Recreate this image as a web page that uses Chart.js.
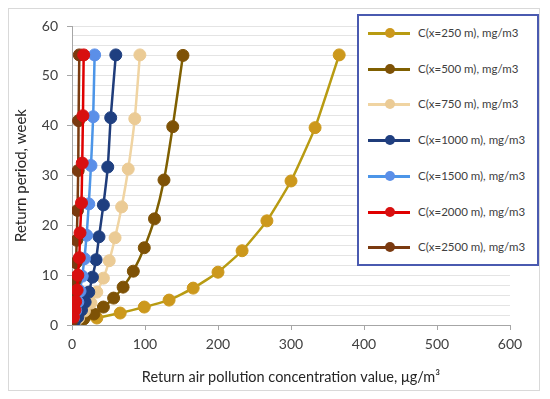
<!DOCTYPE html>
<html>
<head>
<meta charset="utf-8">
<script src="https://cdn.jsdelivr.net/npm/chart.js@4/dist/chart.umd.min.js"></script>
<style>
  html, body { margin: 0; padding: 0; background: #fff; }
  #wrap { position: relative; width: 550px; height: 399px; }
  #frame { position: absolute; left: 8px; top: 8px; width: 530px; height: 381px; border: 1px solid #D9D9D9; pointer-events: none; }
  #legend { position: absolute; left: 357px; top: 14px; width: 178px; height: 248px; border: 2px solid #4A5AB0; background: #fff; }
  .item { position: absolute; left: 0; height: 16px; width: 178px; }
  .sample { position: absolute; left: 9px; top: 7px; width: 42px; height: 3px; }
  .dot { position: absolute; left: 26px; top: 3px; width: 10px; height: 10px; border-radius: 50%; }
  .txt { position: absolute; left: 59px; top: 0px; font: 11.5px Lato, "Open Sans", sans-serif; color: #404040; white-space: nowrap; line-height: 16px; }
</style>
</head>
<body>
<div id="wrap">
  <canvas id="c" width="550" height="399"></canvas>
  <div id="frame"></div>
  <div id="legend"></div>
</div>
<script>
// ---- data ----
const seriesNames = [
  "C(x=250 m), mg/m3", "C(x=500 m), mg/m3", "C(x=750 m), mg/m3",
  "C(x=1000 m), mg/m3", "C(x=1500 m), mg/m3", "C(x=2000 m), mg/m3", "C(x=2500 m), mg/m3"
];
const x250  = [366, 333, 300, 267, 233, 200, 166, 133, 99, 66, 34, 2];
const y250  = [54.2, 39.6, 28.9, 20.9, 14.9, 10.6, 7.4, 5.0, 3.6, 2.4, 1.4, 0.6];
const x500  = [152, 138, 126, 113, 99, 84, 70, 57, 43, 30, 16, 1];
const y500  = [54.1, 39.8, 29.1, 21.3, 15.5, 10.8, 7.6, 5.4, 3.6, 2.2, 1.2, 0.5];
const x750  = [93, 86, 77, 68, 59, 51, 43, 34, 26, 17, 9, 1];
const y750  = [54.2, 41.4, 31.3, 23.7, 17.5, 12.9, 9.4, 6.6, 4.4, 2.8, 1.4, 0.5];
const x1000 = [60, 53, 49, 43, 37, 33, 28, 23, 18, 13, 8, 3];
const y1000 = [54.2, 41.6, 31.7, 24.1, 17.7, 13.1, 9.6, 6.6, 4.6, 3.0, 1.6, 0.6];
const x1500 = [31, 29, 26, 23, 20, 17, 14, 11, 8, 5, 2];
const y1500 = [54.2, 41.8, 32.0, 24.3, 18.0, 13.3, 9.8, 6.8, 4.6, 2.9, 1.4];
const x2000 = [16, 15, 14, 13, 11, 10, 8, 7, 5, 4, 2];
const y2000 = [54.2, 42.0, 32.5, 24.5, 18.5, 13.5, 10.0, 7.0, 4.7, 3.0, 1.6];
const x2500 = [10, 9, 8.5, 7.5, 6.5, 5.5, 4.5, 3.5, 2.5, 1.5, 0.5];
const y2500 = [54.2, 41.0, 31.0, 23.0, 17.0, 12.5, 9.0, 6.5, 4.3, 2.7, 1.0];
const xTickValues = [0, 100, 200, 300, 400, 500, 600];
const yTickValues = [0, 10, 20, 30, 40, 50, 60];

// ---- styles ----
const lineColors  = ["#B89B12", "#7F5F00", "#F0D4A2", "#1F3C7A", "#4C95E8", "#E00000", "#7A3A10"];
const pointColors = ["#CC981C", "#7E5206", "#EBCB95", "#1F3F80", "#5B8FE8", "#D81010", "#7A3A10"];
const drawOrder   = [6, 5, 4, 3, 2, 0, 1];

const xs = [x250, x500, x750, x1000, x1500, x2000, x2500];
const ys = [y250, y500, y750, y1000, y1500, y2000, y2500];

const datasets = seriesNames.map((name, i) => ({
  label: name,
  data: xs[i].map((x, k) => ({ x: x, y: ys[i][k] })),
  borderColor: lineColors[i],
  backgroundColor: pointColors[i],
  pointBackgroundColor: pointColors[i],
  pointBorderColor: pointColors[i],
  borderWidth: 2.5,
  pointRadius: 6,
  pointBorderWidth: 1,
  tension: 0.15,
  order: drawOrder[i],
  showLine: true
}));

const font = { family: "Lato, 'Open Sans', sans-serif", size: 14 };

new Chart(document.getElementById('c'), {
  type: 'scatter',
  data: { datasets },
  options: {
    responsive: false,
    animation: false,
    devicePixelRatio: 1,
    layout: { padding: { top: 26, right: 40, left: 0, bottom: 0 } },
    plugins: { legend: { display: false }, tooltip: { enabled: false } },
    scales: {
      x: {
        type: 'linear', min: 0, max: 600,
        afterFit: s => { s.height = 74; },
        afterBuildTicks: s => { s.ticks = xTickValues.map(v => ({ value: v })); },
        ticks: { font, color: '#404040', padding: 6, autoSkip: false },
        grid: { drawOnChartArea: false, drawTicks: true, tickLength: 5, tickColor: '#A6A6A6' },
        border: { color: '#A6A6A6', width: 1 },
        title: { display: true, text: 'Return air pollution concentration value, μg/m³',
                 font: { family: font.family, size: 14.5 }, color: '#262626', padding: { top: 0, bottom: 13 } }
      },
      y: {
        type: 'linear', min: 0, max: 60,
        afterFit: s => { s.width = 72; },
        ticks: { stepSize: 2, autoSkip: false, font, color: '#404040', padding: 9,
                 callback: v => (yTickValues.includes(v) ? String(v) : '') },
        grid: {
          color: ctx => (ctx.tick && ctx.tick.value === 0) ? 'rgba(0,0,0,0)' : '#E4E4E4',
          tickColor: ctx => (ctx.tick && yTickValues.includes(ctx.tick.value)) ? '#A6A6A6' : 'rgba(0,0,0,0)',
          tickLength: 5, drawTicks: true
        },
        border: { color: '#A6A6A6', width: 1 },
        title: { display: true, text: 'Return period, week',
                 font: { family: font.family, size: 15 }, color: '#262626', padding: { top: 12, bottom: 0 } }
      }
    }
  }
});

// HTML legend built from the dataset names and colours
const legend = document.getElementById('legend');
const itemTops = [17, 53, 88, 124, 160, 196, 231];
seriesNames.forEach((name, i) => {
  const it = document.createElement('div');
  it.className = 'item';
  it.style.top = (itemTops[i] - 17 + 9) + 'px';
  it.innerHTML = '<div class="sample" style="background:' + lineColors[i] + '"></div>' +
                 '<div class="dot" style="background:' + pointColors[i] + '"></div>' +
                 '<div class="txt">' + name + '</div>';
  legend.appendChild(it);
});
</script>
</body>
</html>
